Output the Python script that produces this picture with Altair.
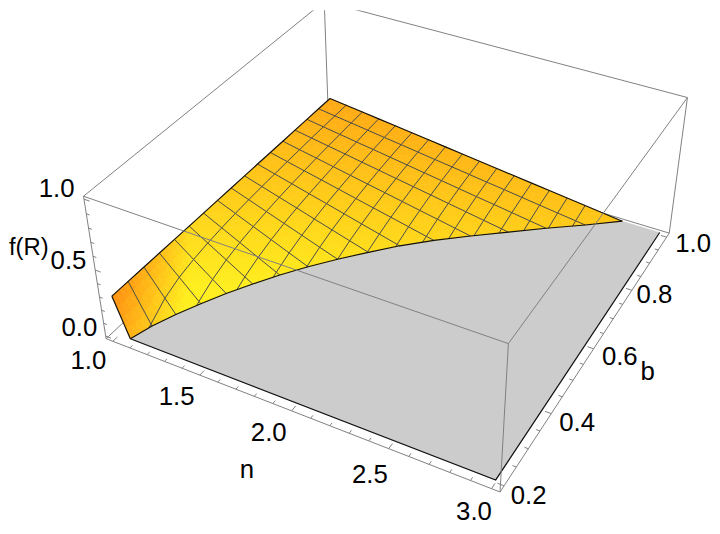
import altair as alt, pandas as pd

# ---- values ----
n_mesh = [1.0,1.105,1.21,1.315,1.42,1.525,1.63,1.735,1.84,1.945,2.05,2.155,2.26,2.365,2.47,2.575]
b_mesh = [0.2,0.25,0.3,0.35,0.4,0.45,0.5,0.55,0.6,0.65,0.7,0.75,0.8,0.85,0.9,0.95,1.0]
# n at which f(R) reaches zero, one per b mesh line
n_zero = [1.075,1.11,1.16,1.22,1.285,1.36,1.44,1.53,1.63,1.74,1.855,1.99,2.14,2.30,2.46,2.63,2.79]
# f(R) on the mesh, one row per b mesh line, only where it is above zero
f_rows = [
 [.29],
 [.29,.013],
 [.29,.10],
 [.29,.152,.013],
 [.29,.183,.076],
 [.29,.205,.121,.036],
 [.29,.221,.152,.082,.013],
 [.29,.233,.175,.118,.060,.003],
 [.29,.242,.193,.145,.097,.048],
 [.29,.249,.208,.167,.125,.084,.043,.002],
 [.29,.254,.219,.183,.148,.112,.076,.041,.005],
 [.29,.259,.228,.198,.167,.136,.105,.075,.044,.013],
 [.29,.263,.237,.210,.183,.156,.130,.103,.076,.050,.023],
 [.29,.267,.243,.220,.196,.173,.149,.126,.103,.079,.056,.032,.009],
 [.29,.269,.248,.227,.207,.186,.165,.144,.123,.102,.081,.061,.040,.019],
 [.29,.271,.253,.234,.215,.197,.178,.159,.141,.122,.103,.085,.066,.047,.028,.010],
 [.29,.273,.256,.239,.222,.205,.188,.171,.154,.137,.120,.103,.086,.069,.052,.035],
]
n_ticks = [1+.1*k for k in range(21)]
b_ticks = [.2+.05*k for k in range(17)]
z_ticks = [.1*k for k in range(11)]
labels = ["1.0","1.5","2.0","2.5","3.0","0.2","0.4","0.6","0.8","1.0","0.0","0.5","1.0","f(R)","n","b"]

# ---- camera of the 3D box ----
N_LO, N_HI = 0.96, 3.04
B_LO, B_HI = 0.184, 1.016
Z_LO, Z_HI = -0.02, 1.02
P = [[341.654766,294.997261,-28.743115,106.944773],
     [100.13012,-182.842156,-157.477881,339.269001],
     [-0.110338,0.212192,-0.07066,1.0]]
def uvw(n,b,z): return ((n-N_LO)/(N_HI-N_LO),(b-B_LO)/(B_HI-B_LO),(z-Z_LO)/(Z_HI-Z_LO))
def cam(u,v,w):
    q=[r[0]*u+r[1]*v+r[2]*w+r[3] for r in P]
    return [q[0]/q[2],q[1]/q[2]]
def proj(n,b,z): return cam(*uvw(n,b,z))

def green(x,y):
    return 170+.36*(y-97)-max(0,x-300)*.05-max(0,190-x)*1.3
def col(x,y):
    g=min(238,max(150,green(x,y)));bl=20+(g-170)*.14
    return '#%02x%02x%02x'%(255,int(g),int(max(10,bl)))
def line(pts): return {"type":"Feature","properties":{},"geometry":{"type":"LineString","coordinates":pts}}
def poly(pts,c=""): return {"type":"Feature","properties":{"c":c},"geometry":{"type":"Polygon","coordinates":[pts+[pts[0]]]}}
PR=dict(type='identity',scale=1,translate=[-8,-8])
def lines(feats,color,w):
    return alt.Chart(alt.Data(values=feats)).mark_geoshape(filled=False,stroke=color,strokeWidth=w).project(**PR)

def mid(a,b): return [(a[0]+b[0])/2,(a[1]+b[1])/2]
def shade_tri(a,b,c,level,out):
    if level==0:
        out.append(poly([a,b,c],col((a[0]+b[0]+c[0])/3,(a[1]+b[1]+c[1])/3)));return
    ab,bc,ca=mid(a,b),mid(b,c),mid(c,a)
    for t in ((a,ab,ca),(ab,b,bc),(ca,bc,c),(ab,bc,ca)): shade_tri(*t,level-1,out)

ne=n_mesh+[3.0]
cells=[]
for j in range(16):
    for i in range(len(n_mesh)):
        pts=[]
        for a,c in ((i,j),(i+1,j),(i+1,j+1),(i,j+1)):
            fv=f_rows[c][a] if a<len(f_rows[c]) else 0.0
            pts.append((ne[a],b_mesh[c],fv))
        def g(pt):
            t=(pt[1]-b_mesh[j])/(b_mesh[j+1]-b_mesh[j])
            return n_zero[j]+(n_zero[j+1]-n_zero[j])*t-pt[0]
        out=[]
        for k in range(4):
            a=pts[k];c=pts[(k+1)%4];ga=g(a);gc=g(c)
            if ga>0: out.append(a)
            if (ga>0)!=(gc>0):
                t=ga/(ga-gc)
                out.append((a[0]+(c[0]-a[0])*t,a[1]+(c[1]-a[1])*t,0.0))
        if len(out)<3: continue
        xy=[proj(*p) for p in out]
        lvl=2 if min(q[0] for q in xy)<215 else 1
        for k in range(1,len(xy)-1):
            shade_tri(xy[0],xy[k],xy[k+1],lvl,cells)

mesh=[];edges=[]
for j in range(17):
    pts=[proj(n_mesh[i],b_mesh[j],f_rows[j][i]) for i in range(len(f_rows[j]))]+[proj(n_zero[j],b_mesh[j],0)]
    (edges if j in (0,16) else mesh).append(line(pts))
for i in range(len(n_mesh)):
    pts=[]
    for j in range(17):
        if i<len(f_rows[j]):
            if not pts and i>0:
                t=(n_mesh[i]-n_zero[j-1])/(n_zero[j]-n_zero[j-1])
                pts.append(proj(n_mesh[i],b_mesh[j-1]+(b_mesh[j]-b_mesh[j-1])*t,0))
            pts.append(proj(n_mesh[i],b_mesh[j],f_rows[j][i]))
    (edges if i==0 else mesh).append(line(pts))
boundary=[proj(n_zero[j],b_mesh[j],0) for j in range(17)]
edges.append(line(boundary))
floor=poly(boundary+[proj(3,1,0),proj(3,.2,0)],"#cccccc")
edges.append(line([proj(3,1,0),proj(3,.2,0),proj(n_zero[0],.2,0)]))

def seg(a,b): return line([cam(*a),cam(*b)])
back=[seg((0,0,0),(0,1,0)),seg((0,1,0),(1,1,0)),seg((0,1,0),(0,1,1)),seg((0,0,1),(0,1,1)),seg((0,1,1),(1,1,1))]
front=[seg((0,0,0),(1,0,0)),seg((1,0,0),(1,1,0)),seg((0,0,0),(0,0,1)),seg((1,0,0),(1,0,1)),seg((1,1,0),(1,1,1)),seg((0,0,1),(1,0,1)),seg((1,0,1),(1,1,1))]
ticks=[]
for k,n in enumerate(n_ticks):
    u=uvw(n,.5,0)[0];L=.017 if k%5==0 else .01
    ticks.append(line([cam(u,0,0),cam(u,L,0)]))
for k,b in enumerate(b_ticks):
    v=uvw(1,b,0)[1];L=.015 if k%4==0 else .009
    ticks.append(line([cam(1,v,0),cam(1-L,v,0)]))
for k,z in enumerate(z_ticks):
    w=uvw(1,.5,z)[2];L=.015 if k%5==0 else .009
    ticks.append(line([cam(0,0,w),cam(L,0,w)]))

# text layout on the page
lx=[89,178,271,373,478,533,582,625,660,699,80,69,57,29,249,653]
ly=[362,398,434,477,514,498,424,358,295,244,329,261,188,248,472,373]
fs=[26]*13+[24,26,26]
tx=pd.DataFrame({"t":labels,"x":lx,"y":ly,"k":range(len(labels)),"s":fs})
text=alt.Chart(tx).mark_text(font="Liberation Sans",color="black",align="center",baseline="middle").encode(
    longitude="x:Q",latitude="y:Q",text="t:N",detail="k:N",size=alt.Size("s:Q",scale=None,legend=None)).project(**PR)

lay=[lines(back,"#808080",1),
     alt.Chart(alt.Data(values=[floor])).mark_geoshape(fill="#cccccc",stroke="#cccccc",strokeWidth=.5).project(**PR),
     alt.Chart(alt.Data(values=cells)).mark_geoshape(strokeWidth=.6).encode(fill=alt.Fill("properties.c:N",scale=None),stroke=alt.Stroke("properties.c:N",scale=None)).project(**PR),
     lines(mesh,"#4a4a4a",1),lines(edges,"#111111",1.2),lines(front,"#808080",1),lines(ticks,"#808080",1),text]
chart=alt.layer(*lay).properties(width=710,height=520,padding=0,autosize=alt.AutoSizeParams(type="none")).configure_view(stroke=None)
chart.save("out.html", embed_options={"renderer": "svg", "actions": False})
